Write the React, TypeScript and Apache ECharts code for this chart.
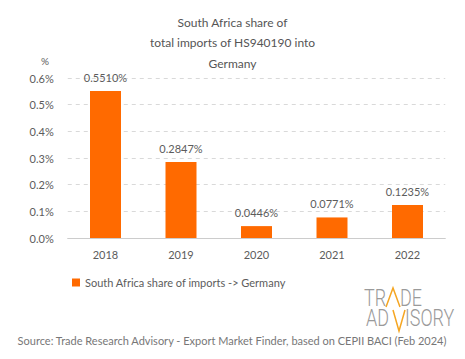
import React, { useEffect, useRef } from "react";
import * as echarts from "echarts";

const categories = ["2018", "2019", "2020", "2021", "2022"];
const shareValues = [0.551, 0.2847, 0.0446, 0.0771, 0.1235];
const yTicks = [0, 0.1, 0.2, 0.3, 0.4, 0.5, 0.6];
const titleLines = ["South Africa share of", "total imports of HS940190 into", "Germany"];
const seriesName = "South Africa share of imports -> Germany";
const sourceText = "Source: Trade Research Advisory - Export Market Finder, based on CEPII BACI (Feb 2024)";

const FONT = "Lato, 'Noto Sans', sans-serif";
const ORANGE = "#ff6a00";
const TXT = "#5c5c5c";
const LOGO_FONT = "Roboto, sans-serif";
const LOGO_GRAY = "#9a9a9a";
const LOGO_ORANGE = "#f5a623";

const logoText = (text: string, x: number, y: number) => ({
  type: "text",
  x,
  y,
  scaleX: 0.78,
  style: { text, fontSize: 23, fill: LOGO_GRAY, fontFamily: LOGO_FONT, fontWeight: 300 },
});

export default function App() {
  const ref = useRef<HTMLDivElement>(null);
  useEffect(() => {
    if (!ref.current) return;
    const chart = echarts.init(ref.current, undefined, { renderer: "svg" });
    chart.setOption({
      animation: false,
      textStyle: { fontFamily: FONT },
      title: {
        text: titleLines.join("\n"),
        left: "center",
        top: 7,
        textStyle: { fontSize: 12, fontWeight: "normal", color: "#555", lineHeight: 20.5, fontFamily: FONT },
      },
      legend: {
        left: 67,
        top: 272,
        itemWidth: 8,
        itemHeight: 8,
        icon: "rect",
        itemGap: 4,
        textStyle: { fontSize: 11, color: TXT, fontFamily: FONT },
        data: [seriesName],
      },
      grid: { left: 67.75, right: 19.75, top: 78, height: 160 },
      xAxis: {
        type: "category",
        data: categories,
        axisTick: { show: false },
        axisLine: { lineStyle: { color: "#ccc" } },
        axisLabel: { color: TXT, fontSize: 11, margin: 11, fontFamily: FONT },
      },
      yAxis: {
        type: "value",
        min: yTicks[0],
        max: yTicks[yTicks.length - 1],
        interval: 0.1,
        axisLine: { show: false },
        axisTick: { show: false },
        axisLabel: {
          color: TXT,
          fontSize: 11,
          margin: 14,
          fontFamily: FONT,
          formatter: (v: number) => v.toFixed(1) + "%",
        },
        splitLine: { lineStyle: { color: "#d9d9d9", type: [4, 4] } },
      },
      series: [
        {
          name: seriesName,
          type: "bar",
          data: shareValues,
          barWidth: 31,
          itemStyle: { color: ORANGE },
          label: {
            show: true,
            position: "top",
            distance: 8,
            color: TXT,
            fontSize: 11,
            fontFamily: FONT,
            formatter: (p: any) => p.value.toFixed(4) + "%",
          },
        },
      ],
      graphic: [
        { type: "text", left: 41, top: 56, style: { text: "%", fontSize: 10, fill: TXT, fontFamily: FONT } },
        {
          type: "text",
          left: "center",
          top: 335,
          style: { text: sourceText, fontSize: 11, fill: "#777", fontFamily: FONT },
        },
        logoText("TR", 364, 287),
        logoText("DE", 400, 287),
        logoText("AD", 366, 307),
        logoText("ISORY", 405, 307),
        {
          type: "polyline",
          shape: { points: [[386, 307], [393, 288], [400, 307]] },
          style: { stroke: LOGO_ORANGE, lineWidth: 1.5, fill: "none" },
        },
        {
          type: "polyline",
          shape: { points: [[393, 310], [399, 331], [405, 310]] },
          style: { stroke: LOGO_ORANGE, lineWidth: 1.5, fill: "none" },
        },
      ],
    });
    return () => chart.dispose();
  }, []);
  return (
    <div
      ref={ref}
      style={{ position: "absolute", left: 0, top: 0, width: 465, height: 359 }}
    />
  );
}
